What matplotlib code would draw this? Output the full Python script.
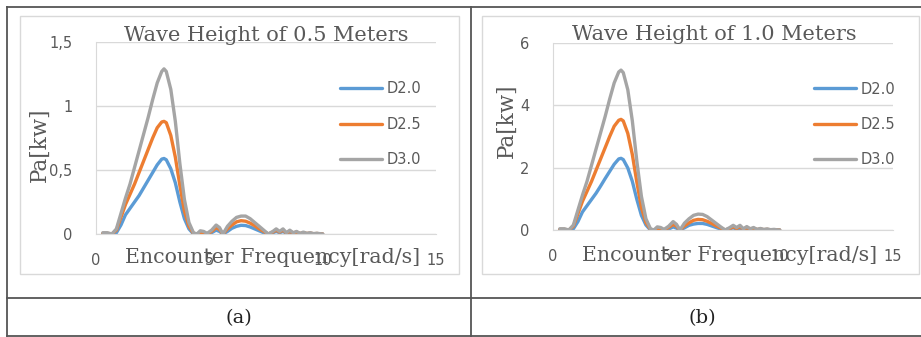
import matplotlib.pyplot as plt
from matplotlib.patches import Rectangle
from matplotlib.lines import Line2D

# --- Data ---
freq = [0.3, 0.5, 0.7, 0.9, 1.1, 1.3, 1.5, 1.7, 1.9, 2.1, 2.3, 2.5, 2.7, 2.9, 3.0,
        3.1, 3.3, 3.5, 3.7, 3.9, 4.1, 4.3, 4.45, 4.6, 4.75, 4.9, 5.1, 5.3, 5.45,
        5.6, 5.8, 6.0, 6.2, 6.4, 6.6, 6.8, 7.0, 7.2, 7.4, 7.6, 7.8, 7.95, 8.1,
        8.25, 8.4, 8.55, 8.7, 8.85, 9.0, 9.15, 9.3, 9.45, 9.6, 9.75, 9.9, 10.0]

# wave height 0.5 m
a_d20 = [0.0, 0.0, 0.0, 0.01, 0.07, 0.15, 0.20, 0.25, 0.30, 0.36, 0.42, 0.48, 0.54, 0.585, 0.59,
         0.58, 0.51, 0.40, 0.25, 0.12, 0.04, 0.0, 0.0, 0.0, 0.0, 0.0, 0.01, 0.03, 0.02,
         0.0, 0.02, 0.045, 0.06, 0.068, 0.066, 0.055, 0.04, 0.025, 0.01, 0.0, 0.01, 0.02, 0.01,
         0.02, 0.005, 0.015, 0.005, 0.01, 0.002, 0.007, 0.002, 0.005, 0.001, 0.003, 0.001, 0.0]
a_d25 = [0.005, 0.005, 0.0, 0.03, 0.13, 0.23, 0.31, 0.39, 0.48, 0.57, 0.66, 0.75, 0.83, 0.875, 0.88,
         0.87, 0.77, 0.60, 0.38, 0.18, 0.06, 0.005, 0.0, 0.005, 0.01, 0.0, 0.02, 0.05, 0.035,
         0.0, 0.04, 0.07, 0.095, 0.104, 0.10, 0.085, 0.065, 0.04, 0.02, 0.0, 0.015, 0.03, 0.015,
         0.03, 0.008, 0.02, 0.008, 0.015, 0.004, 0.01, 0.004, 0.007, 0.002, 0.004, 0.001, 0.0]
a_d30 = [0.01, 0.01, 0.0, 0.04, 0.16, 0.28, 0.39, 0.52, 0.65, 0.78, 0.91, 1.05, 1.18, 1.27, 1.29,
         1.27, 1.13, 0.88, 0.55, 0.27, 0.09, 0.01, 0.0, 0.025, 0.02, 0.005, 0.03, 0.07, 0.05,
         0.0, 0.06, 0.10, 0.13, 0.14, 0.14, 0.12, 0.09, 0.06, 0.03, 0.0, 0.02, 0.04, 0.02,
         0.04, 0.01, 0.03, 0.01, 0.02, 0.005, 0.015, 0.005, 0.01, 0.003, 0.006, 0.002, 0.0]

# wave height 1.0 m
b_d20 = [0.0, 0.0, 0.0, 0.04, 0.27, 0.58, 0.78, 0.98, 1.18, 1.41, 1.65, 1.88, 2.11, 2.28, 2.30,
         2.26, 1.99, 1.56, 0.98, 0.47, 0.16, 0.0, 0.0, 0.0, 0.0, 0.0, 0.03, 0.10, 0.06,
         0.0, 0.07, 0.15, 0.19, 0.21, 0.21, 0.18, 0.13, 0.08, 0.03, 0.0, 0.04, 0.07, 0.03,
         0.06, 0.02, 0.05, 0.02, 0.03, 0.01, 0.02, 0.005, 0.015, 0.003, 0.01, 0.002, 0.0]
b_d25 = [0.02, 0.02, 0.0, 0.12, 0.52, 0.92, 1.24, 1.56, 1.92, 2.28, 2.64, 3.00, 3.33, 3.52, 3.55,
         3.50, 3.10, 2.42, 1.53, 0.72, 0.24, 0.02, 0.0, 0.02, 0.04, 0.0, 0.08, 0.18, 0.12,
         0.0, 0.13, 0.23, 0.31, 0.34, 0.33, 0.28, 0.21, 0.13, 0.06, 0.0, 0.05, 0.10, 0.05,
         0.10, 0.03, 0.07, 0.03, 0.05, 0.015, 0.03, 0.01, 0.02, 0.005, 0.01, 0.003, 0.0]
b_d30 = [0.04, 0.04, 0.0, 0.16, 0.64, 1.12, 1.56, 2.08, 2.60, 3.12, 3.64, 4.20, 4.72, 5.07, 5.13,
         5.05, 4.50, 3.50, 2.20, 1.08, 0.36, 0.04, 0.0, 0.10, 0.08, 0.02, 0.12, 0.27, 0.18,
         0.0, 0.22, 0.36, 0.47, 0.51, 0.50, 0.43, 0.32, 0.21, 0.10, 0.0, 0.08, 0.15, 0.08,
         0.15, 0.04, 0.11, 0.04, 0.08, 0.02, 0.05, 0.02, 0.035, 0.01, 0.02, 0.005, 0.0]

series_labels = ["D2.0", "D2.5", "D3.0"]
colors = ["#5B9BD5", "#ED7D31", "#A5A5A5"]

a_yticks = [0, 0.5, 1, 1.5]
a_yticklabels = ["0", "0,5", "1", "1,5"]
b_yticks = [0, 2, 4, 6]
b_yticklabels = ["0", "2", "4", "6"]
xticks = [0, 5, 10, 15]

W, H = 921, 337
fig = plt.figure(figsize=(W / 100, H / 100), dpi=100)
fig.patch.set_facecolor("white")

SERIF = "DejaVu Serif"
TXT = "#595959"


def fx(px):
    return px / W


def fy(py):
    return 1 - py / H


# table lines
tbl = dict(color="#555555", lw=1.3, transform=fig.transFigure)
fig.add_artist(Line2D([fx(7), 1], [fy(7), fy(7)], **tbl))
fig.add_artist(Line2D([fx(7), 1], [fy(298), fy(298)], **tbl))
fig.add_artist(Line2D([fx(7), 1], [fy(336), fy(336)], **tbl))
fig.add_artist(Line2D([fx(7), fx(7)], [fy(7), fy(336)], **tbl))
fig.add_artist(Line2D([fx(471), fx(471)], [fy(7), fy(336)], **tbl))

# chart area boxes
for x0, x1 in [(20, 459), (482, 919)]:
    fig.add_artist(Rectangle((fx(x0), fy(274)), fx(x1 - x0), (274 - 16) / H,
                             transform=fig.transFigure, fill=False,
                             edgecolor="#d9d9d9", lw=1.0))


def draw_panel(rect, series, yticks, yticklabels, title, title_pos, ylab_pos, xlab_pos, leg_pos):
    ax = fig.add_axes(rect)
    for vals, lab, c in zip(series, series_labels, colors):
        ax.plot(freq, vals, color=c, lw=2.4, label=lab, solid_capstyle="round",
                solid_joinstyle="round")
    ax.set_xlim(0, 15)
    ax.set_ylim(0, yticks[-1])
    ax.set_xticks(xticks)
    ax.set_yticks(yticks)
    ax.set_yticklabels(yticklabels)
    ax.tick_params(length=0, labelsize=10.5, labelcolor=TXT, pad=17)
    ax.tick_params(axis="x", pad=14)
    ax.grid(axis="y", color="#d9d9d9", lw=1.0)
    ax.set_axisbelow(True)
    for s in ["top", "right"]:
        ax.spines[s].set_visible(False)
    ax.spines["left"].set_color("#d9d9d9")
    ax.spines["bottom"].set_color("#d9d9d9")
    ax.text(title_pos[0], title_pos[1], title, transform=ax.transAxes, ha="center",
            va="center", family=SERIF, fontsize=15, color=TXT)
    ax.text(ylab_pos[0], ylab_pos[1], "Pa[kw]", transform=ax.transAxes, ha="center",
            va="center", rotation=90, family=SERIF, fontsize=15.5, color=TXT)
    ax.text(xlab_pos[0], xlab_pos[1], "Encounter Frequency[rad/s]", transform=ax.transAxes,
            ha="center", va="center", family=SERIF, fontsize=14.8, color=TXT)
    ax.legend(loc="upper left", bbox_to_anchor=leg_pos, frameon=False, fontsize=10.5,
              labelcolor=TXT, handlelength=2.9, handletextpad=0.3, labelspacing=1.4,
              borderaxespad=0)
    return ax


draw_panel([fx(96), fy(234), 340 / W, 192 / H], [a_d20, a_d25, a_d30],
           a_yticks, a_yticklabels, "Wave Height of 0.5 Meters",
           (0.5, 1.036), (-0.165, 0.464), (0.518, -0.12), (0.70, 0.825))
draw_panel([fx(553), fy(230), 340 / W, 187 / H], [b_d20, b_d25, b_d30],
           b_yticks, b_yticklabels, "Wave Height of 1.0 Meters",
           (0.474, 1.043), (-0.135, 0.583), (0.52, -0.134), (0.75, 0.825))

fig.text(fx(239), fy(318), "(a)", ha="center", va="center", family=SERIF, fontsize=14, color="#222222")
fig.text(fx(702), fy(318), "(b)", ha="center", va="center", family=SERIF, fontsize=14, color="#222222")

fig.savefig("out.png", dpi=100)
